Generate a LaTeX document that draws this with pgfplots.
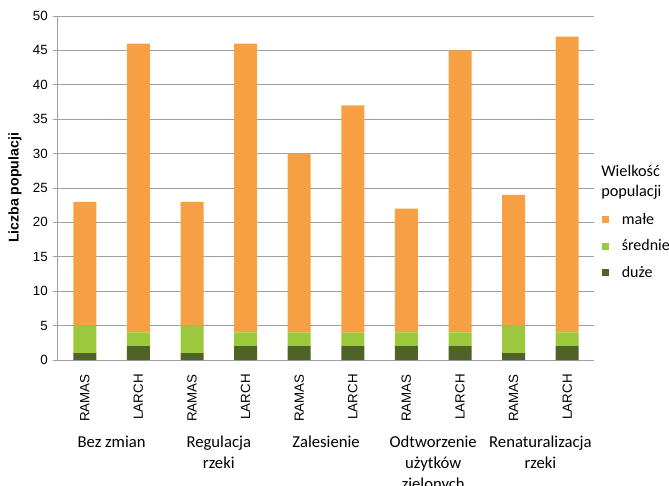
\documentclass[border=0pt]{standalone}
\usepackage{fontspec}
\setmainfont{Carlito}
\newfontfamily\arial{Liberation Sans}
\usepackage{pgfplots}
\usepackage{pgfplotstable}
\pgfplotsset{compat=1.18}
\definecolor{male}{HTML}{F79F43}
\definecolor{srednie}{HTML}{9BC83C}
\definecolor{duze}{HTML}{4F6228}
\definecolor{gridc}{HTML}{A0A0A0}

\pgfplotstableread{
x duze srednie male
0 1 4 18
1 2 2 42
2 1 4 18
3 2 2 42
4 2 2 26
5 2 2 33
6 2 2 18
7 2 2 41
8 1 4 19
9 2 2 43
}\data

\tikzset{grouplab/.style={anchor=base, inner sep=0pt, font=\fontsize{12.5}{15.75}\selectfont, yshift=-65.25pt}}

\begin{document}
\begin{tikzpicture}
\begin{axis}[
  scale only axis, width=402pt, height=258pt,
  xmin=-0.5, xmax=9.5, ymin=0, ymax=50,
  clip=false,
  ybar stacked, bar width=17.25pt,
  xtick=data,
  xticklabels={RAMAS,LARCH,RAMAS,LARCH,RAMAS,LARCH,RAMAS,LARCH,RAMAS,LARCH},
  ytick={0,5,...,50},
  axis x line*=bottom, axis y line*=left,
  axis line style={gridc, line width=0.75pt, -},
  ymajorgrids, grid style={gridc, line width=0.75pt},
  tick align=outside,
  x tick style={draw=none},
  y tick style={gridc, line width=0.75pt},
  major tick length=4pt,
  /pgf/number format/assume math mode=true,
  x tick label style={rotate=90, anchor=east, inner sep=0pt, font=\arial\fontsize{10}{12}\selectfont},
  y tick label style={inner sep=0pt, font=\arial\fontsize{10}{12}\selectfont},
  xticklabel shift=6.5pt,
  yticklabel shift=3.5pt,
  every axis y label/.style={at={(axis description cs:0,0.5)}, xshift=-32.25pt, rotate=90, anchor=center, font=\arial\bfseries\fontsize{10.6}{12}\selectfont},
  ylabel={Liczba populacji},
  legend style={at={(axis description cs:1,0.430)}, xshift=6pt, anchor=north west, draw=none, fill=none, inner sep=0pt,
    column sep=9.75pt, row sep=7.9pt,
    nodes={inner sep=0pt, text height=9pt, text depth=3pt, font=\fontsize{12}{14}\selectfont}},
  legend cell align=left,
]
\addplot[fill=duze, draw=none, forget plot] table[x=x, y=duze] {\data};
\addplot[fill=srednie, draw=none, forget plot] table[x=x, y=srednie] {\data};
\addplot[fill=male, draw=none, forget plot] table[x=x, y=male] {\data};
\addlegendimage{legend image code/.code={\fill[male] (0pt,-1.5pt) rectangle (4.5pt,3pt);}}
\addlegendentry{małe}
\addlegendimage{legend image code/.code={\fill[srednie] (0pt,-1.5pt) rectangle (4.5pt,3pt);}}
\addlegendentry{średnie}
\addlegendimage{legend image code/.code={\fill[duze] (0pt,-1.5pt) rectangle (4.5pt,3pt);}}
\addlegendentry{duże}

\node[anchor=base west, inner sep=0pt, font=\fontsize{12.2}{15}\selectfont, xshift=5.25pt]
  at (axis description cs:1,0.532) {\begin{tabular}[t]{@{}l@{}}Wielkość\\populacji\end{tabular}};

\node[grouplab] at (axis cs:0.5,0) {\begin{tabular}[t]{@{}c@{}}Bez zmian\end{tabular}};
\node[grouplab] at (axis cs:2.5,0) {\begin{tabular}[t]{@{}c@{}}Regulacja\\rzeki\end{tabular}};
\node[grouplab] at (axis cs:4.5,0) {\begin{tabular}[t]{@{}c@{}}Zalesienie\end{tabular}};
\node[grouplab] at (axis cs:6.5,0) {\begin{tabular}[t]{@{}c@{}}Odtworzenie\\użytków\\zielonych\end{tabular}};
\node[grouplab] at (axis cs:8.5,0) {\begin{tabular}[t]{@{}c@{}}Renaturalizacja\\rzeki\end{tabular}};
\coordinate (bl) at (rel axis cs:0,0);
\coordinate (tr) at (rel axis cs:1,1);
\end{axis}
\pgfresetboundingbox
\path ([xshift=-43.5pt,yshift=-93.75pt]bl) rectangle ([xshift=56.25pt,yshift=12pt]tr);
\end{tikzpicture}
\end{document}
